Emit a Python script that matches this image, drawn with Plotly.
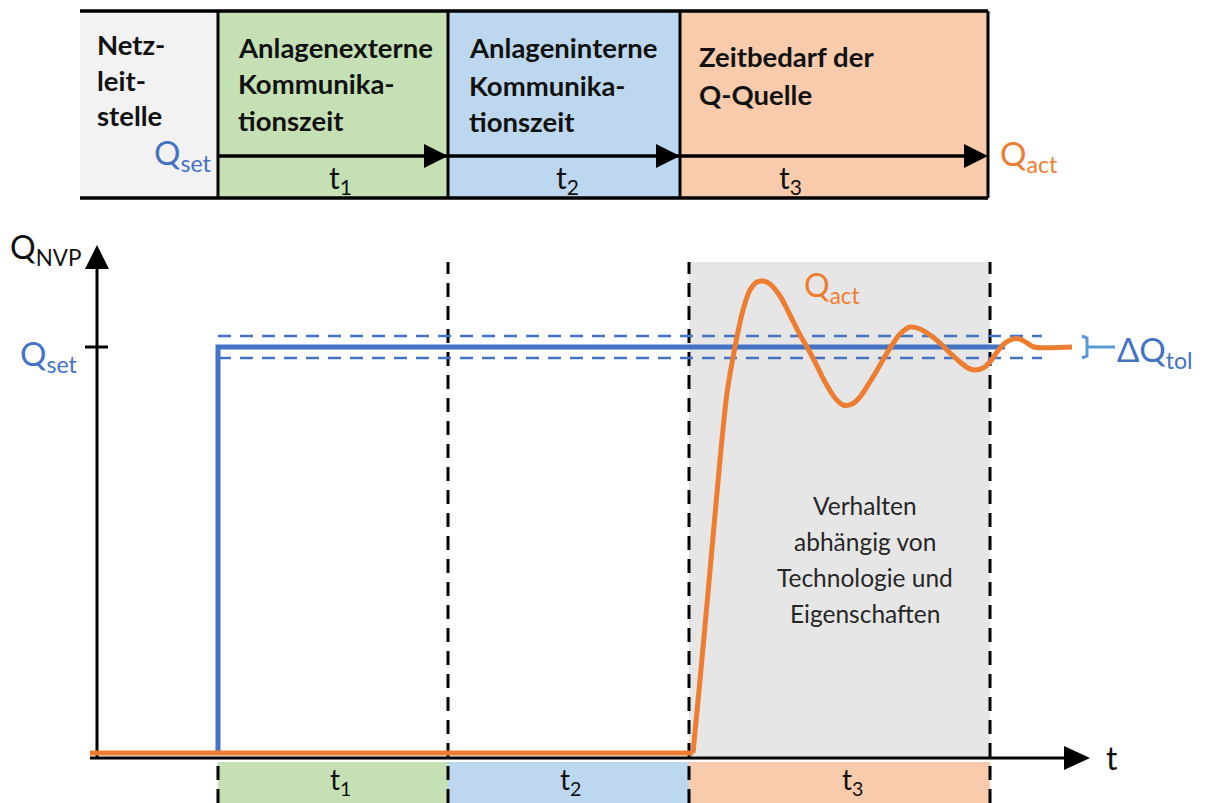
import plotly.graph_objects as go

# ---------------- data (diagram units: t to the right, Q upward) ----------------
# top process chain
chain_edges = [80, 218, 448, 680, 988]
chain_fill = ["#f2f2f2", "#c5e0b4", "#bdd7ee", "#f8cbad"]
chain_titles = [["Netz-", "leit-", "stelle"],
                ["Anlagenexterne", "Kommunika-", "tionszeit"],
                ["Anlageninterne", "Kommunika-", "tionszeit"],
                ["Zeitbedarf der", "Q-Quelle"]]
chain_title_x = [95, 236, 467, 697]
chain_title_q = [[713, 677, 642], [710, 674, 637], [710, 672, 636], [701, 663]]
chain_top, chain_bottom, chain_arrow_q = 746, 559, 601
chain_sub_labels = ["t<sub>1</sub>", "t<sub>2</sub>", "t<sub>3</sub>"]
chain_sub_x = [340, 567, 790]
chain_sub_q = 578

# main time diagram
t_axis_start, t_axis_end = 90, 1090
q_axis_top = 512
t_setpoint = 218
phase_edges = [218, 448, 689, 990]
phase_fill = ["#c5e0b4", "#bdd7ee", "#f8cbad"]
phase_labels = ["t<sub>1</sub>", "t<sub>2</sub>", "t<sub>3</sub>"]
phase_label_x = [340, 570, 852]
phase_label_q = -24
dashed_top = 495

Q_set = 410
Q_tol = 11
setpoint_end = 1005
tol_end = 1042

act_t = [90, 693, 700, 708, 715, 720, 727, 735, 743, 750, 757, 763,
         770, 780, 790, 800, 807, 815, 825, 835, 843, 852,
         860, 868, 876, 884, 892, 900, 910, 920, 930, 940, 950, 960, 968, 975,
         983, 990, 997, 1005, 1013, 1020, 1027, 1034, 1072]
act_q = [4, 4, 77, 164, 242, 297, 364, 410, 447, 467, 475, 476,
         473, 461, 442, 422, 410, 395, 375, 359, 352, 353,
         360, 372, 385, 399, 412, 423, 430, 428, 422, 414, 404, 395, 389, 387,
         389, 395, 405, 414, 418, 418, 414, 410, 410]

behaviour_text = ["Verhalten", "abhängig von", "Technologie und", "Eigenschaften"]
behaviour_q = [252, 216, 180, 144]
behaviour_t = 865

BLUE = "#4472c4"
ORANGE = "#ed7d31"
FONT = "Lato"

# ---------------- figure ----------------
fig = go.Figure()
shapes = []
ann = []


def line(x0, y0, x1, y1, color="black", width=3, dash="solid", layer="below"):
    shapes.append(dict(type="line", xref="x", yref="y", x0=x0, y0=y0, x1=x1, y1=y1,
                       line=dict(color=color, width=width, dash=dash), layer=layer))


def rect(x0, y0, x1, y1, fill):
    shapes.append(dict(type="rect", xref="x", yref="y", x0=x0, y0=y0, x1=x1, y1=y1,
                       fillcolor=fill, line=dict(width=0), layer="below"))


def head(tx, ty, direction, length=24, half=12):
    if direction == "right":
        pts = [(tx, ty), (tx - length, ty + half), (tx - length, ty - half)]
    else:
        pts = [(tx, ty), (tx - half, ty - length), (tx + half, ty - length)]
    path = "M {} {} L {} {} L {} {} Z".format(*[v for p in pts for v in p])
    shapes.append(dict(type="path", xref="x", yref="y", path=path,
                       fillcolor="black", line=dict(width=0), layer="above"))


def text(x, y, s, size, color="black", xanchor="center", bold=False):
    ann.append(dict(x=x, y=y, xref="x", yref="y", text=("<b>%s</b>" % s) if bold else s,
                    showarrow=False, xanchor=xanchor, yanchor="middle",
                    font=dict(family=FONT, size=size, color=color)))


# top chain boxes
for i in range(4):
    rect(chain_edges[i], chain_bottom, chain_edges[i + 1], chain_top, chain_fill[i])
line(chain_edges[0], chain_top, chain_edges[-1], chain_top, width=3.5)
line(chain_edges[0], chain_bottom, chain_edges[-1], chain_bottom, width=3.5)
for e in chain_edges[1:]:
    line(e, chain_bottom, e, chain_top, width=3)
line(chain_edges[1], chain_arrow_q, chain_edges[-1] - 10, chain_arrow_q, width=3.5)
for e in chain_edges[2:]:
    head(e, chain_arrow_q, "right", length=24, half=12)
for i, lines_ in enumerate(chain_titles):
    for s, q in zip(lines_, chain_title_q[i]):
        text(chain_title_x[i], q, s, 27.5, color="#111111", xanchor="left", bold=True)
for s, x in zip(chain_sub_labels, chain_sub_x):
    text(x, chain_sub_q, s, 30, color="#111111")
text(chain_edges[1] - 4, 603, "Q<sub>set</sub>", 33, color=BLUE, xanchor="right")
text(chain_edges[-1] + 10, 602, "Q<sub>act</sub>", 33, color=ORANGE, xanchor="left")

# shaded t3 region and bottom phase boxes
rect(phase_edges[2], 0, phase_edges[3], dashed_top, "#e6e6e6")
for i in range(3):
    rect(phase_edges[i], -46, phase_edges[i + 1], -5, phase_fill[i])
for s, x in zip(phase_labels, phase_label_x):
    text(x, phase_label_q, s, 28, color="#111111")

# dashed phase boundaries
for e in phase_edges[1:]:
    line(e, -46, e, dashed_top, width=3, dash="14px,9px")
line(phase_edges[0], -46, phase_edges[0], -4, width=3, dash="14px,9px")

# axes
line(97, -1, 97, q_axis_top - 15, width=3)
line(t_axis_start, -1, t_axis_end - 15, -1, width=3)
head(97, q_axis_top, "up", length=24, half=12)
head(t_axis_end, -1, "right", length=26, half=12)
line(85, Q_set, 108, Q_set, width=3)
text(8, q_axis_top - 4, "Q<sub>NVP</sub>", 32, color="#111111", xanchor="left")
text(80, Q_set - 8, "Q<sub>set</sub>", 33, color=BLUE, xanchor="right")
text(t_axis_end + 14, 0, "t", 32, color="#111111", xanchor="left")

# tolerance band
for q in (Q_set + Q_tol, Q_set - Q_tol):
    fig.add_trace(go.Scatter(x=[t_setpoint, tol_end], y=[q, q], mode="lines",
                             line=dict(color=BLUE, width=2.5, dash="13px,9px"), hoverinfo="skip"))

# setpoint step
fig.add_trace(go.Scatter(x=[t_setpoint, t_setpoint, setpoint_end], y=[2, Q_set, Q_set],
                         mode="lines", line=dict(color=BLUE, width=5), hoverinfo="skip"))

# actual response
fig.add_trace(go.Scatter(x=act_t[:2], y=act_q[:2], mode="lines",
                         line=dict(color=ORANGE, width=5), hoverinfo="skip"))
fig.add_trace(go.Scatter(x=act_t[1:], y=act_q[1:], mode="lines",
                         line=dict(color=ORANGE, width=5, shape="spline", smoothing=0.8),
                         hoverinfo="skip"))
text(802, 470, "Q<sub>act</sub>", 32, color=ORANGE, xanchor="left")

# tolerance bracket
bx = tol_end + 45
fig.add_trace(go.Scatter(x=[bx - 5, bx, bx, bx - 5], y=[Q_set + Q_tol, Q_set + Q_tol - 2,
                                                     Q_set - Q_tol + 2, Q_set - Q_tol],
                         mode="lines", line=dict(color="#5b9bd5", width=3), hoverinfo="skip"))
fig.add_trace(go.Scatter(x=[bx, bx + 28], y=[Q_set, Q_set], mode="lines",
                         line=dict(color="#5b9bd5", width=3), hoverinfo="skip"))
text(bx + 28, Q_set - 4, "ΔQ<sub>tol</sub>", 33, color=BLUE, xanchor="left")

# behaviour note
for s, q in zip(behaviour_text, behaviour_q):
    text(behaviour_t, q, s, 24.5, color="#262626")

fig.update_layout(
    width=1205, height=803, margin=dict(l=0, r=0, t=0, b=0),
    paper_bgcolor="white", plot_bgcolor="white", showlegend=False,
    xaxis=dict(range=[0, 1205], visible=False, fixedrange=True),
    yaxis=dict(range=[-46, 757], visible=False, fixedrange=True),
    shapes=shapes, annotations=ann,
)
fig.write_html("out.html", config={"displayModeBar": False},
               post_script="document.body.style.margin='0';")
